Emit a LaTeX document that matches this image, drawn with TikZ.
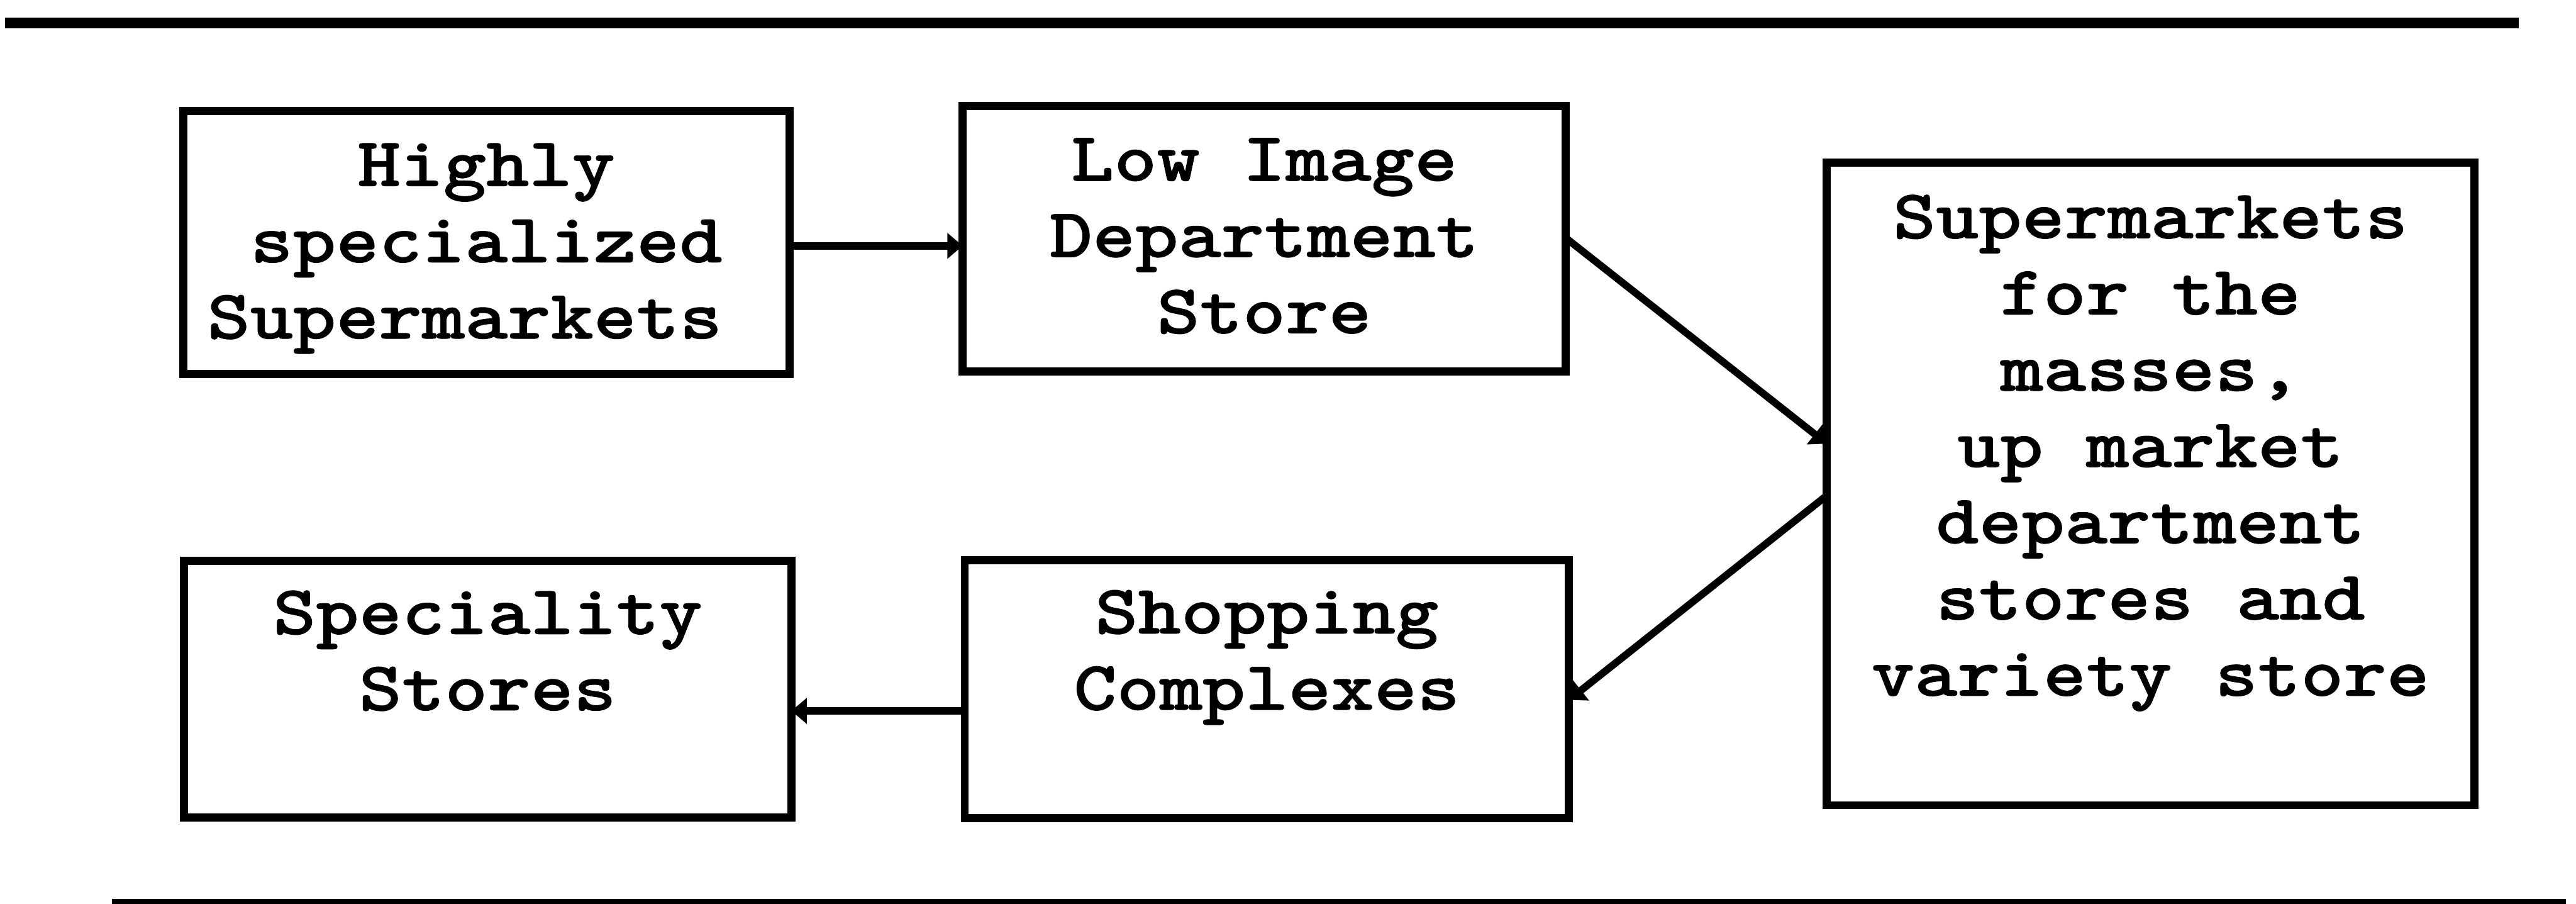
\documentclass[tikz,border=0pt]{standalone}
\usepackage{fontspec}
\newfontfamily\boxfont{lmmonolt10-bold.otf}[FakeStretch=1.17,FakeBold=0.8]
\usetikzlibrary{arrows.meta,calc,fit}
\begin{document}
\begin{tikzpicture}[x=0.03cm, y=-0.03cm,
  box/.style={draw, rectangle, line width=4.2pt, inner sep=0pt, outer sep=0pt},
  boxtext/.style={font=\boxfont\fontsize{36.3}{39.6}\selectfont,
    align=center, inner sep=0pt, outer sep=0pt, anchor=north, yshift=30pt},
  link/.style={line width=3.8pt, -{Triangle[length=8pt,width=13pt]}},
  toprule/.style={line width=5.4pt},
  botrule/.style={line width=6pt}
]
\useasboundingbox (0,0) rectangle (1568,550);

% horizontal rules above and below the chart
\coordinate (ruleTopL) at (3,14);
\coordinate (ruleTopR) at (1533,14);
\coordinate (ruleBotL) at (68,550.5);
\coordinate (ruleBotR) at (1562,550.5);
\draw[toprule] (ruleTopL) -- (ruleTopR);
\draw[botrule] (ruleBotL) -- (ruleBotR);

% the five store types
\node[box, fit={(111.5,67.7) (480.5,227.5)}] (B1) {};
\node[box, fit={(586,64.5) (953,226)}] (B2) {};
\node[box, fit={(1112,99) (1506,490)}] (B3) {};
\node[box, fit={(112,341.3) (481.7,497.4)}] (B4) {};
\node[box, fit={(587.2,341) (955,497.8)}] (B5) {};

\node[boxtext] (T1) at ($(B1.north)+(0,45.5)$)
  {\rule{0pt}{30pt}Highly\\specialized\\Supermarkets\phantom{x}};
\node[boxtext] (T2) at ($(B2.north)+(0,45.5)$)
  {\rule{0pt}{30pt}Low Image\\Department\\Store};
\node[boxtext] (T3) at ($(B3.north)+(0,46)$)
  {\rule{0pt}{30pt}Supermarkets\\for the\\masses,\\up market\\department\\stores and\\variety store};
\node[boxtext] (T4) at ($(B4.north)+(0,44.5)$)
  {\rule{0pt}{30pt}Speciality\\Stores};
\node[boxtext] (T5) at ($(B5.north)+(0,44.5)$)
  {\rule{0pt}{30pt}Shopping\\Complexes};

% flow between the boxes
\coordinate (a1s) at ($(B1.east)+(0,2)$);
\draw[link] (a1s) -- (a1s -| B2.west);
\draw[link] ($(B2.east)+(0,-0.5)$) -- ($(B3.west)+(0,-24.5)$);
\draw[link] ($(B3.west)+(0,7)$) -- ($(B5.east)+(0,6.5)$);
\coordinate (a4s) at ($(B5.west)+(0,13.2)$);
\draw[link] (a4s) -- (a4s -| B4.east);
\end{tikzpicture}
\end{document}
